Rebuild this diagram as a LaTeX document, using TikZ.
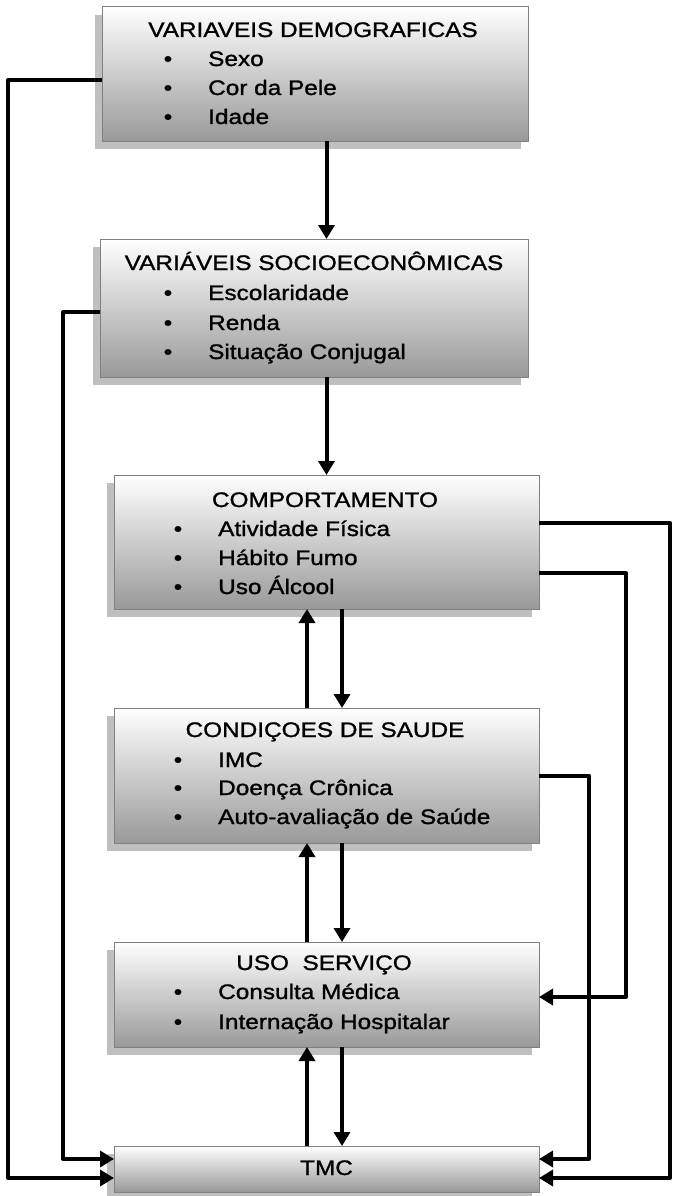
\documentclass[tikz,border=0pt]{standalone}
\usepackage{fontspec}
\setmainfont{Liberation Sans}[FakeStretch=1.16, FakeBold=1.2]
\usetikzlibrary{arrows.meta}
\usetikzlibrary{shadows}

\tikzset{
  caixa/.style={draw=black!50, line width=1pt, outer sep=0pt, inner sep=0pt,
    top color=white, bottom color=black!40,
    drop shadow={shadow xshift=-7pt, shadow yshift=-8pt, fill=black!25, opacity=1}},
  seta/.style={line width=4pt, line join=round, -{Triangle[length=14pt,width=16pt]}}
}

\begin{document}
\begin{tikzpicture}[x=1pt, y=-1pt]
\useasboundingbox (0,0) rectangle (672,1196);

  % the six boxes
  \node[caixa, minimum width=426pt, minimum height=134pt] (demo) at (315,74) {};
  \node[caixa, minimum width=428pt, minimum height=138pt] (socio) at (314,308) {};
  \node[caixa, minimum width=425pt, minimum height=134pt] (comp) at (326.5,542) {};
  \node[caixa, minimum width=425pt, minimum height=135pt] (cond) at (326.5,775.5) {};
  \node[caixa, minimum width=425pt, minimum height=105pt] (uso) at (326.5,994.5) {};
  \node[caixa, minimum width=425pt, minimum height=46pt] (tmc) at (326.5,1169) {};

  \begin{scope}[every node/.style={font=\fontsize{21}{25}\selectfont, inner sep=0pt, anchor=base west}]
  \node[anchor=base] (demot) at (313,37) {VARIAVEIS DEMOGRAFICAS};
  \node[anchor=base] (demob1) at (168,66) {•};
  \node[anchor=base] (demob2) at (168,95) {•};
  \node[anchor=base] (demob3) at (168,124) {•};
  \node (demoa) at (208,66) {Sexo};
  \node (demob) at (208,95) {Cor da Pele};
  \node (democ) at (208,124) {Idade};

  \node[anchor=base] (sociot) at (314,270) {VARIÁVEIS SOCIOECONÔMICAS};
  \node[anchor=base] (sociob1) at (168,300) {•};
  \node[anchor=base] (sociob2) at (168,330) {•};
  \node[anchor=base] (sociob3) at (168,359) {•};
  \node (socioa) at (208,300) {Escolaridade};
  \node (sociob) at (208,330) {Renda};
  \node (socioc) at (208,359) {Situação Conjugal};

  \node[anchor=base] (compt) at (325,507) {COMPORTAMENTO};
  \node[anchor=base] (compb1) at (178,536) {•};
  \node[anchor=base] (compb2) at (178,565) {•};
  \node[anchor=base] (compb3) at (178,594) {•};
  \node (compa) at (218,536) {Atividade Física};
  \node (compb) at (218,565) {Hábito Fumo};
  \node (compc) at (218,594) {Uso Álcool};

  \node[anchor=base] (condt) at (325,737) {CONDIÇOES DE SAUDE};
  \node[anchor=base] (condb1) at (178,767) {•};
  \node[anchor=base] (condb2) at (178,795) {•};
  \node[anchor=base] (condb3) at (178,824) {•};
  \node (conda) at (218,767) {IMC};
  \node (condb) at (218,795) {Doença Crônica};
  \node (condc) at (218,824) {Auto-avaliação de Saúde};

  \node[anchor=base] (usot) at (324,970) {USO\ \ SERVIÇO};
  \node[anchor=base] (usob1) at (178,999) {•};
  \node[anchor=base] (usob2) at (178,1029) {•};
  \node (usoa) at (218,999) {Consulta Médica};
  \node (usob) at (218,1029) {Internação Hospitalar};

  \node[anchor=base] (tmct) at (326.5,1175) {TMC};
  \end{scope}

  % arrows down the middle
  \draw[seta] (comp.north |- demo.south) -- (comp.north |- socio.north);
  \draw[seta] (comp.north |- socio.south) -- (comp.north);
  \draw[seta] ([xshift=-19.5pt]cond.north) -- ([xshift=-19.5pt]comp.south);
  \draw[seta] ([xshift=15.5pt]comp.south) -- ([xshift=15.5pt]cond.north);
  \draw[seta] ([xshift=-19.5pt]uso.north) -- ([xshift=-19.5pt]cond.south);
  \draw[seta] ([xshift=15.5pt]cond.south) -- ([xshift=15.5pt]uso.north);
  \draw[seta] ([xshift=-19.5pt]tmc.north) -- ([xshift=-19.5pt]uso.south);
  \draw[seta] ([xshift=15.5pt]uso.south) -- ([xshift=15.5pt]tmc.north);

  % lines round the sides
  \draw[seta] ([yshift=-6pt]demo.west) -- ++(-94,0) |- ([yshift=-9pt]tmc.west);
  \draw[seta] ([yshift=-4pt]socio.west) -- ++(-37,0) |- ([yshift=10pt]tmc.west);
  \draw[seta] ([yshift=19pt]comp.east) -- ++(131,0) |- ([yshift=-9pt]tmc.east);
  \draw[seta] ([yshift=-31pt]comp.east) -- ++(87,0) |- ([yshift=-2.5pt]uso.east);
  \draw[seta] (cond.east) -- ++(50,0) |- ([yshift=10pt]tmc.east);

\end{tikzpicture}
\end{document}
